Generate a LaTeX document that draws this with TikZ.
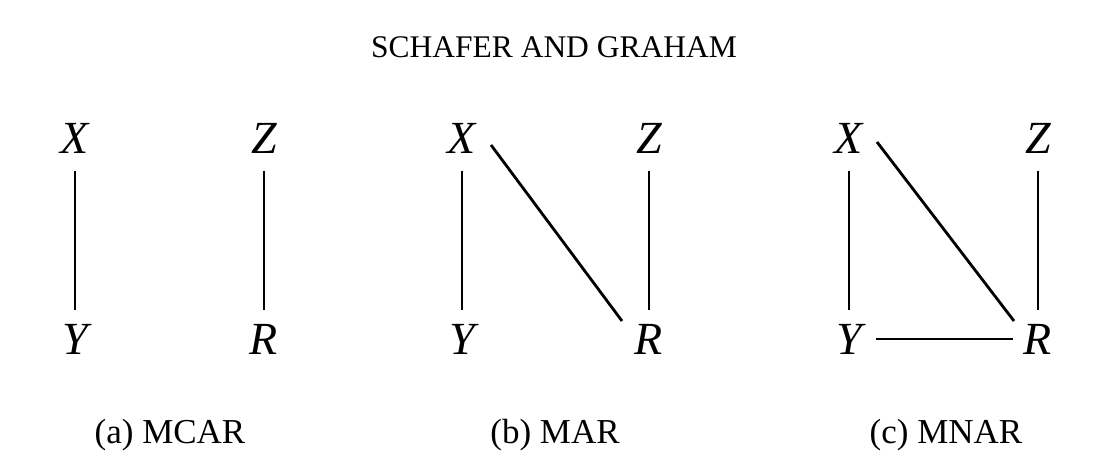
\documentclass[tikz,border=0pt]{standalone}
\usepackage{fontspec}
\setmainfont{Liberation Serif}
\begin{document}
\begin{tikzpicture}[x=1pt,y=1pt,
  var/.style={anchor=base,inner sep=0pt,font=\fontsize{46}{46}\selectfont\itshape},
  caption/.style={anchor=base,inner sep=0pt,font=\fontsize{35}{35}\selectfont},
  title/.style={anchor=base,inner sep=0pt,font=\fontsize{31.5}{31.5}\selectfont},
  edge/.style={line width=2.8pt}]
\useasboundingbox (0,0) rectangle (1116,476);
\node[title] (t) at (554,418) {SCHAFER AND GRAHAM};
% panel a
\node[var] (aX) at (75,322) {X};
\node[var] (aZ) at (264,322) {Z};
\node[var] (aY) at (75,121) {Y};
\node[var] (aR) at (264,121) {R};
\node[caption] (la) at (170,32) {(a) MCAR};
% panel b
\node[var] (bX) at (462,322) {X};
\node[var] (bZ) at (649,322) {Z};
\node[var] (bY) at (462,121) {Y};
\node[var] (bR) at (649,121) {R};
\node[caption] (lb) at (555,32) {(b) MAR};
% panel c
\node[var] (cX) at (849,322) {X};
\node[var] (cZ) at (1038,322) {Z};
\node[var] (cY) at (849,121) {Y};
\node[var] (cR) at (1038,121) {R};
\node[caption] (lc) at (946,32) {(c) MNAR};
% edges
\foreach \p in {a,b,c}{
  \draw[edge] ([yshift=-17pt]\p X.base) -- ([yshift=45pt]\p Y.base);
  \draw[edge] ([yshift=-17pt]\p Z.base) -- ([yshift=45pt]\p R.base);
}
\draw[edge] ([shift={(29pt,9pt)}]bX.base) -- ([shift={(-27pt,34pt)}]bR.base);
\draw[edge] ([shift={(28pt,12pt)}]cX.base) -- ([shift={(-24pt,34pt)}]cR.base);
\draw[edge] ([shift={(27pt,16pt)}]cY.base) -- ([shift={(-25pt,16pt)}]cR.base);
\end{tikzpicture}
\end{document}
